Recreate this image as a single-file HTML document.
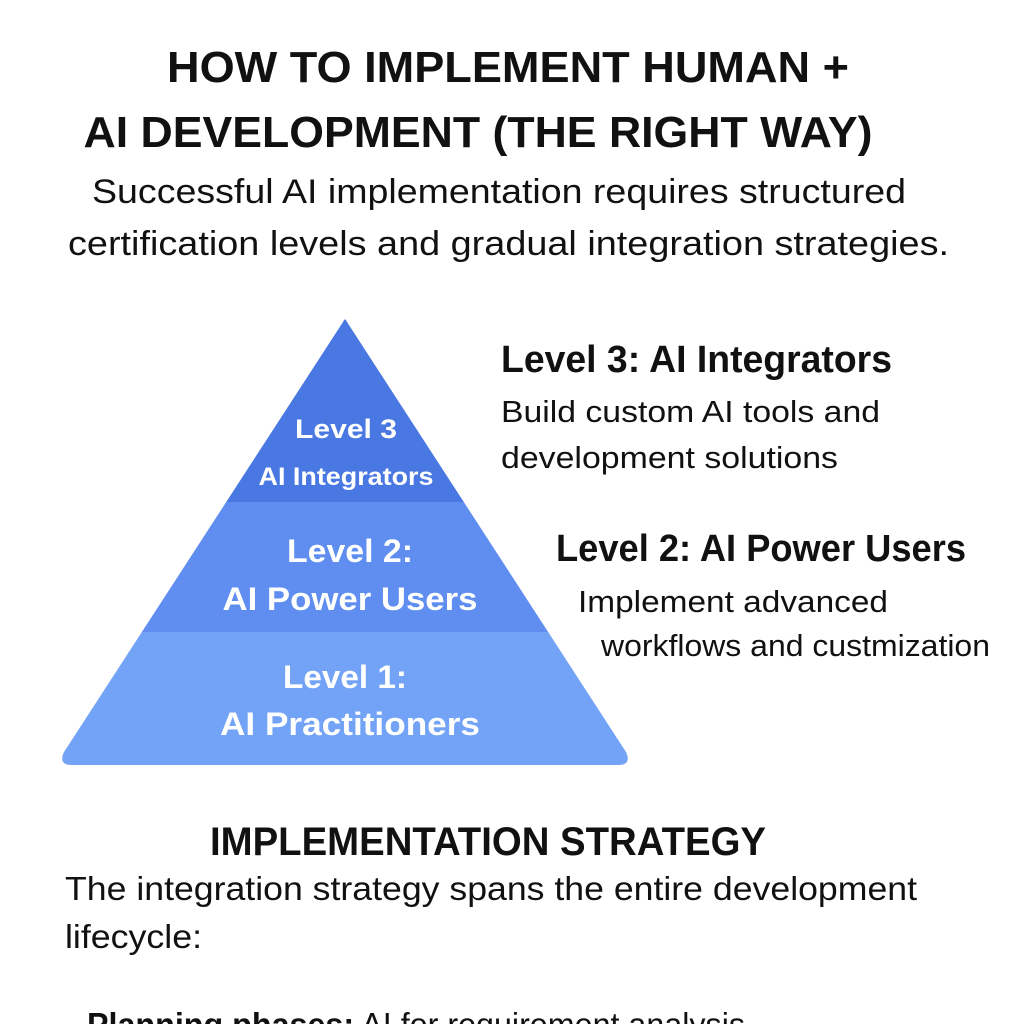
<!DOCTYPE html>
<html><head><meta charset="utf-8"><style>
html,body{margin:0;padding:0;background:#fff;width:1024px;height:1024px;overflow:hidden}
svg{display:block}
text{font-family:"Liberation Sans",sans-serif}
</style></head><body>
<svg width="1024" height="1024" viewBox="0 0 1024 1024">
<defs><clipPath id="tri"><path d="M345,320 Q345,318 347,322 L626,752 Q632,765 618,765 L72,765 Q58,765 64,752 L343,322 Q345,318 345,320 Z"/></clipPath></defs>
<g fill="#111" font-weight="bold">
<text x="508" y="82" font-size="44" text-anchor="middle" textLength="682" lengthAdjust="spacingAndGlyphs">HOW TO IMPLEMENT HUMAN +</text>
<text x="478" y="147" font-size="44" text-anchor="middle" textLength="789" lengthAdjust="spacingAndGlyphs">AI DEVELOPMENT (THE RIGHT WAY)</text>
</g>
<g fill="#111" font-size="34">
<text x="92" y="203" textLength="814" lengthAdjust="spacingAndGlyphs">Successful AI implementation requires structured</text>
<text x="68" y="255" textLength="881" lengthAdjust="spacingAndGlyphs">certification levels and gradual integration strategies.</text>
</g>
<g clip-path="url(#tri)">
<rect x="0" y="300" width="700" height="203" fill="#4a78e2"/>
<rect x="0" y="502" width="700" height="131" fill="#5f8ef0"/>
<rect x="0" y="632" width="700" height="140" fill="#73a3f6"/>
</g>
<g fill="#fff" font-weight="bold" text-anchor="middle">
<text x="346" y="438" font-size="27" textLength="102" lengthAdjust="spacingAndGlyphs">Level 3</text>
<text x="346" y="485" font-size="25" textLength="175" lengthAdjust="spacingAndGlyphs">AI Integrators</text>
<text x="350" y="562" font-size="32" textLength="126" lengthAdjust="spacingAndGlyphs">Level 2:</text>
<text x="350" y="610" font-size="32" textLength="255" lengthAdjust="spacingAndGlyphs">AI Power Users</text>
<text x="345" y="688" font-size="32" textLength="124" lengthAdjust="spacingAndGlyphs">Level 1:</text>
<text x="350" y="735" font-size="32" textLength="260" lengthAdjust="spacingAndGlyphs">AI Practitioners</text>
</g>
<g fill="#111">
<text x="501" y="372" font-size="38" font-weight="bold" textLength="391" lengthAdjust="spacingAndGlyphs">Level 3: AI Integrators</text>
<text x="501" y="422" font-size="31" textLength="379" lengthAdjust="spacingAndGlyphs">Build custom AI tools and</text>
<text x="501" y="468" font-size="31" textLength="337" lengthAdjust="spacingAndGlyphs">development solutions</text>
<text x="556" y="561" font-size="38" font-weight="bold" textLength="410" lengthAdjust="spacingAndGlyphs">Level 2: AI Power Users</text>
<text x="578" y="612" font-size="31" textLength="310" lengthAdjust="spacingAndGlyphs">Implement advanced</text>
<text x="601" y="656" font-size="31" textLength="389" lengthAdjust="spacingAndGlyphs">workflows and custmization</text>
<text x="210" y="855" font-size="40" font-weight="bold" textLength="556" lengthAdjust="spacingAndGlyphs">IMPLEMENTATION STRATEGY</text>
<text x="65" y="900" font-size="33" textLength="852" lengthAdjust="spacingAndGlyphs">The integration strategy spans the entire development</text>
<text x="65" y="948" font-size="33" textLength="137" lengthAdjust="spacingAndGlyphs">lifecycle:</text>
<text x="87" y="1036" font-size="33" textLength="658" lengthAdjust="spacingAndGlyphs"><tspan font-weight="bold">Planning phases:</tspan> AI for requirement analysis</text>
</g>
</svg>
</body></html>
